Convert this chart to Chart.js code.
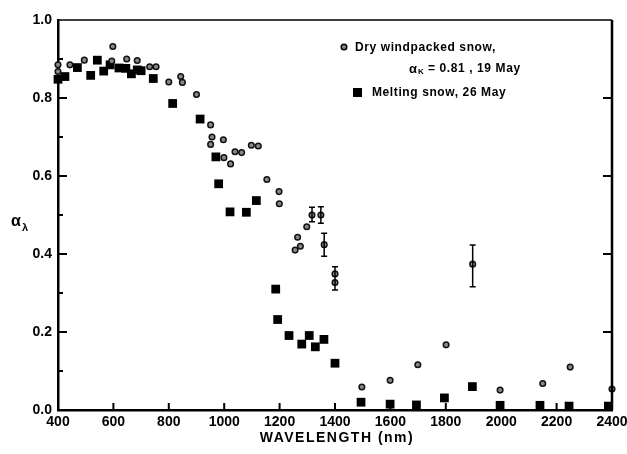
<!DOCTYPE html>
<html>
<head>
<meta charset="utf-8">
<script src="https://cdn.jsdelivr.net/npm/chart.js@4"></script>
<style>
    body { margin: 0; background: #fff; }
    #wrap { width: 627px; height: 454px; position: relative; }
</style>
</head>
<body>
<div id="wrap"><canvas id="albedo"></canvas></div>
<script>
// Dry windpacked snow, 19 May
var dryX = [400, 400, 443, 495, 594, 598, 648, 686, 731, 754, 800, 843, 849, 900, 951, 956, 951, 997, 999, 1023,
    1039, 1063, 1098, 1123, 1154, 1198, 1199, 1256, 1265, 1275, 1298, 1317, 1349, 1361, 1400, 1400, 1497, 1599,
    1699, 1801, 1897, 1996, 2150, 2249, 2400];
var dryY = [0.885, 0.868, 0.885, 0.897, 0.895, 0.932, 0.900, 0.896, 0.880, 0.880, 0.841, 0.855, 0.840, 0.809, 0.731,
    0.700, 0.681, 0.693, 0.647, 0.631, 0.662, 0.660, 0.679, 0.677, 0.591, 0.560, 0.529, 0.410, 0.443, 0.420,
    0.470, 0.500, 0.500, 0.424, 0.349, 0.327, 0.059, 0.076, 0.116, 0.167, 0.374, 0.051, 0.068, 0.110, 0.054];

// Melting snow, 26 May
var meltX = [400, 425, 470, 518, 542, 565, 588, 620, 645, 665, 686, 700, 744, 814, 913, 970, 980, 1021, 1080, 1116,
    1186, 1193, 1234, 1280, 1307, 1329, 1360, 1400, 1494, 1599, 1694, 1795, 1896, 1996, 2140, 2245, 2387];
var meltY = [0.848, 0.855, 0.878, 0.858, 0.897, 0.869, 0.885, 0.877, 0.876, 0.862, 0.872, 0.870, 0.850, 0.786, 0.746,
    0.649, 0.580, 0.508, 0.507, 0.537, 0.310, 0.232, 0.191, 0.169, 0.191, 0.162, 0.181, 0.120, 0.020, 0.015,
    0.013, 0.031, 0.060, 0.012, 0.012, 0.010, 0.010];

// error bars on the dry snow curve
var errX = [1317, 1349, 1361, 1400, 1897];
var errLo = [0.483, 0.479, 0.394, 0.308, 0.316];
var errHi = [0.520, 0.521, 0.453, 0.367, 0.423];

var xTicks = [400, 600, 800, 1000, 1200, 1400, 1600, 1800, 2000, 2200, 2400];

function toPoints(xs, ys) {
    return xs.map(function (x, i) { return { x: x, y: ys[i] }; });
}

var FONT = "'Liberation Sans', Arial, sans-serif";

// frame, inward ticks, error bars, axis titles and legend
var decor = {
    id: "decor",
    afterDatasetsDraw: function (chart) {
        var ctx = chart.ctx;
        var xs = chart.scales.x, ys = chart.scales.y;
        ctx.save();
        ctx.strokeStyle = "#000";
        ctx.lineWidth = 1.5;
        for (var i = 0; i < errX.length; i++) {
            var px = xs.getPixelForValue(errX[i]);
            var top = ys.getPixelForValue(errHi[i]);
            var bot = ys.getPixelForValue(errLo[i]);
            ctx.beginPath();
            ctx.moveTo(px, top); ctx.lineTo(px, bot);
            ctx.moveTo(px - 3, top); ctx.lineTo(px + 3, top);
            ctx.moveTo(px - 3, bot); ctx.lineTo(px + 3, bot);
            ctx.stroke();
        }
        ctx.restore();
    },
    afterDraw: function (chart) {
        var ctx = chart.ctx;
        var a = chart.chartArea;
        var xs = chart.scales.x, ys = chart.scales.y;
        ctx.save();
        ctx.strokeStyle = "#000";

        // top and right edges
        ctx.lineWidth = 1.5;
        ctx.beginPath();
        ctx.moveTo(a.left, a.top); ctx.lineTo(a.right, a.top);
        ctx.stroke();
        ctx.lineWidth = 2.5;
        ctx.beginPath();
        ctx.moveTo(a.right, a.top); ctx.lineTo(a.right, a.bottom);
        ctx.stroke();

        // inward ticks
        ctx.lineWidth = 2;
        ctx.beginPath();
        xTicks.slice(1, -1).forEach(function (v) {
            var px = xs.getPixelForValue(v);
            ctx.moveTo(px, a.bottom); ctx.lineTo(px, a.bottom - 7);
        });
        for (var k = 1; k < 10; k++) {
            var py = ys.getPixelForValue(k / 10);
            var len = (k % 2 === 0) ? 9 : 5;
            ctx.moveTo(a.left, py); ctx.lineTo(a.left + len, py);
            if (k % 2 === 0) {
                ctx.moveTo(a.right, py); ctx.lineTo(a.right - 9, py);
            }
        }
        ctx.stroke();

        // axis titles
        ctx.fillStyle = "#000";
        ctx.textBaseline = "middle";
        ctx.textAlign = "center";
        ctx.font = "bold 14px " + FONT;
        ctx.letterSpacing = "1.5px";
        ctx.fillText("WAVELENGTH (nm)", (a.left + a.right) / 2 + 2, 438);
        ctx.letterSpacing = "0px";
        ctx.textAlign = "left";
        ctx.font = "bold 16px " + FONT;
        ctx.fillText("α", 11, 222);
        ctx.font = "bold 11px " + FONT;
        ctx.fillText("λ", 22, 228);

        // legend
        ctx.font = "bold 12px " + FONT;
        ctx.letterSpacing = "0.6px";
        ctx.fillText("Dry windpacked snow,", 355, 48);
        ctx.font = "bold 13px " + FONT;
        ctx.letterSpacing = "0px";
        ctx.fillText("α", 409, 69);
        ctx.font = "bold 8px " + FONT;
        ctx.fillText("K", 418, 72);
        ctx.font = "bold 12px " + FONT;
        ctx.letterSpacing = "0.6px";
        ctx.fillText("= 0.81 , 19 May", 428, 69);
        ctx.fillText("Melting snow, 26 May", 372, 93);
        ctx.letterSpacing = "0px";

        ctx.lineWidth = 1.5;
        ctx.fillStyle = "#888";
        ctx.beginPath();
        ctx.arc(344, 47, 2.8, 0, Math.PI * 2);
        ctx.fill(); ctx.stroke();
        ctx.fillStyle = "#000";
        ctx.fillRect(353, 88, 9, 9);
        ctx.restore();
    }
};

new Chart(document.getElementById("albedo").getContext("2d"), {
    type: "scatter",
    data: {
        datasets: [
            {
                label: "Dry windpacked snow, 19 May",
                data: toPoints(dryX, dryY),
                pointStyle: "circle",
                pointRadius: 2.8,
                pointBackgroundColor: "#888",
                pointBorderColor: "#111",
                pointBorderWidth: 1.5,
                clip: false
            },
            {
                label: "Melting snow, 26 May",
                data: toPoints(meltX, meltY),
                pointStyle: "rect",
                pointRadius: 6.2,
                pointBackgroundColor: "#000",
                pointBorderColor: "#000",
                pointBorderWidth: 0,
                clip: false
            }
        ]
    },
    options: {
        responsive: true,
        maintainAspectRatio: false,
        animation: false,
        layout: { padding: { top: 20, right: 15, left: 0, bottom: 0 } },
        plugins: {
            legend: { display: false },
            tooltip: { enabled: false }
        },
        scales: {
            x: {
                type: "linear",
                min: 400,
                max: 2400,
                grid: { display: false, drawTicks: false },
                border: { display: true, color: "#000", width: 2.5 },
                ticks: {
                    stepSize: 200,
                    color: "#000",
                    padding: 4,
                    maxRotation: 0,
                    font: { family: FONT, size: 14, weight: "bold" },
                    callback: function (v) { return String(v); }
                },
                afterFit: function (scale) {
                    scale.height = 44;
                    scale.paddingLeft = 0;
                    scale.paddingRight = 0;
                }
            },
            y: {
                min: 0,
                max: 1,
                grid: { display: false, drawTicks: false },
                border: { display: true, color: "#000", width: 2.5 },
                ticks: {
                    stepSize: 0.2,
                    color: "#000",
                    padding: 6,
                    font: { family: FONT, size: 14, weight: "bold" },
                    callback: function (v) { return v.toFixed(1); }
                },
                afterFit: function (scale) {
                    scale.width = 58;
                    scale.paddingTop = 0;
                    scale.paddingBottom = 0;
                }
            }
        }
    },
    plugins: [decor]
});
</script>
</body>
</html>
